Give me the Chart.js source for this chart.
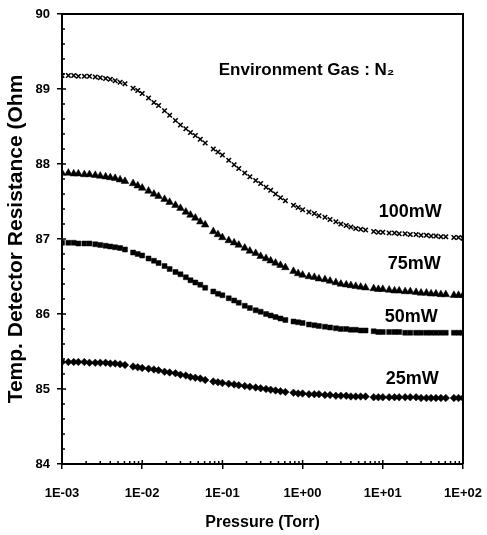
<!DOCTYPE html>
<html><head><meta charset="utf-8">
<script src="https://cdn.jsdelivr.net/npm/chart.js@4.4.1/dist/chart.umd.min.js"></script>
<style>html,body{margin:0;padding:0;background:#fff;}#wrap{width:487px;height:535px;position:relative;}</style>
</head><body><div id="wrap"><canvas id="c" width="487" height="535"></canvas></div>
<script>
const pressure = [
  1.0e-3,1.2e-3,1.4e-3,1.6e-3,1.9e-3,2.2e-3,2.6e-3,3.0e-3,3.5e-3,4.0e-3,4.6e-3,5.3e-3,6.1e-3,7.7e-3,8.8e-3,
  1.0e-2,1.2e-2,1.4e-2,1.6e-2,1.9e-2,2.2e-2,2.6e-2,3.0e-2,3.5e-2,4.0e-2,4.6e-2,5.3e-2,6.1e-2,7.7e-2,8.8e-2,
  1.0e-1,1.2e-1,1.4e-1,1.6e-1,1.9e-1,2.2e-1,2.6e-1,3.0e-1,3.5e-1,4.0e-1,4.6e-1,5.3e-1,6.1e-1,7.7e-1,8.8e-1,
  1.0,1.2,1.4,1.6,1.9,2.2,2.6,3.0,3.5,4.0,4.6,5.3,6.1,7.7,8.8,
  10,12,14,16,19,22,26,30,35,40,46,53,61,77,88,
  100
];
const r100mW = [
  89.18,89.18,89.18,89.17,89.17,89.17,89.16,89.15,89.14,89.13,89.11,89.09,89.07,89.01,88.98,
  88.94,88.88,88.82,88.78,88.71,88.65,88.58,88.52,88.47,88.42,88.38,88.33,88.28,88.20,88.16,
  88.12,88.05,87.99,87.94,87.88,87.83,87.78,87.74,87.69,87.65,87.60,87.55,87.51,87.45,87.42,
  87.39,87.36,87.34,87.31,87.29,87.26,87.23,87.20,87.18,87.16,87.14,87.13,87.12,87.10,87.09,
  87.09,87.08,87.08,87.07,87.07,87.06,87.06,87.05,87.05,87.04,87.04,87.03,87.03,87.02,87.02,
  87.01
];
const r75mW = [
  87.88,87.88,87.87,87.87,87.86,87.86,87.85,87.84,87.83,87.82,87.81,87.79,87.77,87.74,87.71,
  87.68,87.64,87.60,87.57,87.53,87.49,87.45,87.41,87.36,87.32,87.28,87.23,87.19,87.10,87.06,
  87.02,86.98,86.95,86.92,86.88,86.84,86.81,86.77,86.74,86.71,86.68,86.65,86.62,86.57,86.54,
  86.52,86.50,86.49,86.47,86.46,86.44,86.42,86.40,86.39,86.38,86.37,86.36,86.35,86.34,86.33,
  86.33,86.32,86.31,86.31,86.30,86.30,86.29,86.28,86.28,86.27,86.27,86.26,86.26,86.25,86.25,
  86.25
];
const r50mW = [
  86.95,86.95,86.95,86.94,86.94,86.94,86.93,86.92,86.91,86.90,86.89,86.88,86.86,86.82,86.80,
  86.78,86.74,86.71,86.68,86.64,86.60,86.56,86.53,86.49,86.45,86.42,86.39,86.35,86.30,86.27,
  86.25,86.21,86.18,86.15,86.11,86.08,86.05,86.03,86.00,85.98,85.96,85.94,85.92,85.90,85.89,
  85.88,85.86,85.85,85.84,85.83,85.82,85.81,85.80,85.80,85.79,85.79,85.78,85.78,85.77,85.76,
  85.76,85.76,85.76,85.76,85.75,85.75,85.75,85.75,85.75,85.75,85.75,85.75,85.75,85.75,85.75,
  85.75
];
const r25mW = [
  85.36,85.36,85.36,85.36,85.36,85.35,85.35,85.35,85.35,85.34,85.34,85.33,85.32,85.30,85.29,
  85.28,85.27,85.26,85.25,85.23,85.22,85.21,85.19,85.18,85.16,85.15,85.14,85.12,85.10,85.09,
  85.08,85.07,85.06,85.05,85.04,85.03,85.02,85.01,85.00,84.99,84.98,84.97,84.96,84.95,84.94,
  84.94,84.93,84.93,84.93,84.92,84.92,84.91,84.91,84.91,84.90,84.90,84.90,84.90,84.89,84.89,
  84.89,84.89,84.89,84.89,84.89,84.89,84.89,84.88,84.88,84.88,84.88,84.88,84.88,84.88,84.88,
  84.88
];
const seriesLabels = ['100mW','75mW','50mW','25mW'];
const xTickValues = [1e-3,1e-2,1e-1,1,10,100];
const xTickLabels = ['1E-03','1E-02','1E-01','1E+00','1E+01','1E+02'];
const yTickValues = [84,85,86,87,88,89,90];
const yTickLabels = ['84','85','86','87','88','89','90'];
const xTitle = 'Pressure (Torr)';
const yTitle = 'Temp. Detector Resistance (Ohm';
const noteText = 'Environment Gas : N\u2082';

const FONT = "'Liberation Sans', Arial, sans-serif";
const NARROW = "'Liberation Sans Narrow', 'Liberation Sans', Arial, sans-serif";

function pts(vals){ return pressure.map((p,i)=>({x:p,y:vals[i]})); }

const framePlugin = {
  id:'frame',
  afterDraw(chart){
    const {ctx, chartArea:a, scales:{x,y}} = chart;
    ctx.save();
    ctx.strokeStyle='#000';
    ctx.lineWidth=2;
    ctx.beginPath();
    ctx.moveTo(a.left, a.top); ctx.lineTo(a.right, a.top); ctx.lineTo(a.right, a.bottom);
    ctx.stroke();
    ctx.lineWidth=1.5;
    ctx.beginPath();
    for(let d=-3; d<2; d++){
      for(let m=2; m<=9; m++){
        const px = x.getPixelForValue(m*Math.pow(10,d));
        ctx.moveTo(px, a.bottom); ctx.lineTo(px, a.bottom-3);
      }
    }
    xTickValues.forEach(v=>{ const px=x.getPixelForValue(v); ctx.moveTo(px,a.bottom); ctx.lineTo(px,a.bottom-4); });
    for(let k=0; k<30; k++){
      const v = 84 + k*0.2;
      const py = y.getPixelForValue(v);
      ctx.moveTo(a.left, py); ctx.lineTo(a.left+3, py);
    }
    yTickValues.forEach(v=>{ const py=y.getPixelForValue(v); ctx.moveTo(a.left,py); ctx.lineTo(a.left+4,py); });
    ctx.stroke();
    ctx.fillStyle='#000';
    ctx.textBaseline='middle';
    ctx.textAlign='left';
    ctx.font = "bold 17px " + NARROW;
    ctx.fillText(noteText, x.getPixelForValue(0.09), y.getPixelForValue(89.25));
    ctx.font = "bold 18px " + NARROW;
    const lx = [8.9, 11.5, 10.6, 10.9];
    const ly = [87.36, 86.66, 85.96, 85.13];
    seriesLabels.forEach((s,i)=>{
      ctx.fillText(s, x.getPixelForValue(lx[i]), y.getPixelForValue(ly[i]));
    });
    ctx.restore();
  }
};

new Chart(document.getElementById('c'), {
  type:'scatter',
  data:{datasets:[
    {label:seriesLabels[0], data:pts(r100mW), pointStyle:'crossRot', pointRadius:3.2, borderColor:'#000', backgroundColor:'#000', pointBorderWidth:1.6, showLine:false},
    {label:seriesLabels[1], data:pts(r75mW), pointStyle:'triangle', pointRadius:4.4, borderColor:'#000', backgroundColor:'#000', pointBorderWidth:0.5, showLine:false},
    {label:seriesLabels[2], data:pts(r50mW), pointStyle:'rect', pointRadius:3.5, borderColor:'#000', backgroundColor:'#000', pointBorderWidth:0.5, showLine:false},
    {label:seriesLabels[3], data:pts(r25mW), pointStyle:'rectRot', pointRadius:3.8, borderColor:'#000', backgroundColor:'#000', pointBorderWidth:0.5, showLine:false}
  ]},
  options:{
    responsive:false, animation:false, devicePixelRatio:1,
    layout:{padding:{left:0, right:24, top:14, bottom:0}},
    plugins:{legend:{display:false}, tooltip:{enabled:false}},
    scales:{
      x:{
        type:'logarithmic', min:1e-3, max:100,
        afterBuildTicks(scale){ scale.ticks = xTickValues.map(v=>({value:v, major:true})); },
        afterFit(scale){ scale.height = 71; scale.paddingLeft = 0; scale.paddingRight = 0; },
        ticks:{ autoSkip:false, maxRotation:0, minRotation:0, padding:17, color:'#000',
          font:{family:FONT, size:13, weight:'bold'},
          callback:(v,i)=>xTickLabels[i] },
        grid:{ drawOnChartArea:false, drawTicks:true, tickLength:5, color:'#000', lineWidth:1.5 },
        border:{ display:true, color:'#000', width:2 },
        title:{ display:true, text:xTitle, color:'#000', font:{family:FONT, size:16, weight:'bold'}, padding:{top:0,bottom:3} }
      },
      y:{
        type:'linear', min:84, max:90,
        afterBuildTicks(scale){ scale.ticks = yTickValues.map(v=>({value:v})); },
        afterFit(scale){ scale.width = 62; scale.paddingTop = 0; scale.paddingBottom = 0; },
        ticks:{ autoSkip:false, padding:7, color:'#000',
          font:{family:FONT, size:13, weight:'bold'},
          callback:(v,i)=>yTickLabels[i] },
        grid:{ drawOnChartArea:false, drawTicks:true, tickLength:5, color:'#000', lineWidth:1.5 },
        border:{ display:true, color:'#000', width:2 },
        title:{ display:true, text:yTitle, color:'#000', font:{family:FONT, size:21, weight:'bold'}, padding:{top:4,bottom:0} }
      }
    }
  },
  plugins:[framePlugin]
});
</script>
</body></html>
